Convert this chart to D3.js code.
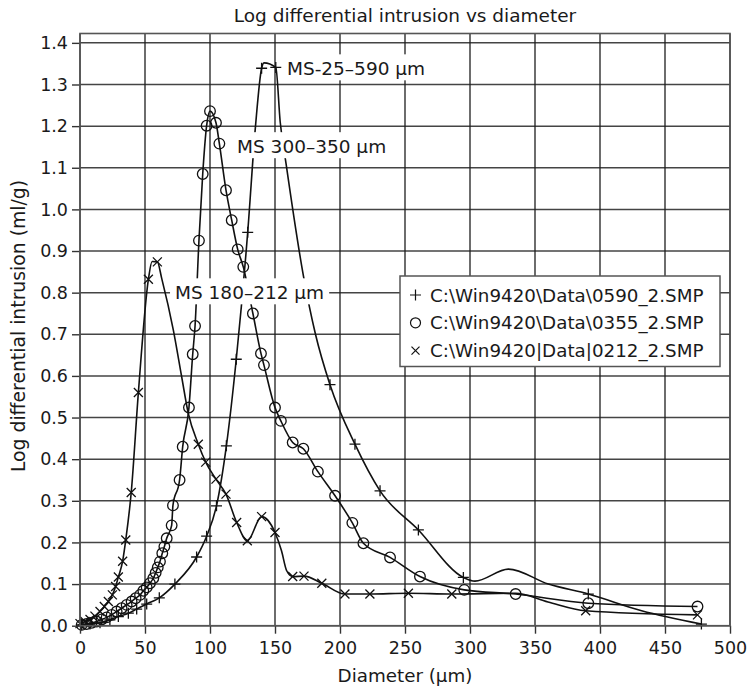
<!DOCTYPE html>
<html>
<head>
<meta charset="utf-8">
<script src="https://cdn.jsdelivr.net/npm/d3@7"></script>
<style>
body { margin: 0; background: #fff; }
svg { display: block; font-family: "DejaVu Sans", sans-serif; }
</style>
</head>
<body>
<svg id="chart"></svg>
<script>
// axis ticks
const xTickValues = [0, 50, 100, 150, 200, 250, 300, 350, 400, 450, 500];
const yTickValues = [0.0, 0.1, 0.2, 0.3, 0.4, 0.5, 0.6, 0.7, 0.8, 0.9, 1.0, 1.1, 1.2, 1.3, 1.4];

const seriesNames = ['C:\\Win9420\\Data\\0590_2.SMP', 'C:\\Win9420\\Data\\0355_2.SMP', 'C:\\Win9420|Data|0212_2.SMP'];
const seriesMarkers = ['plus', 'circle', 'times'];
const curveLabels = ['MS-25\u2013590 \u00b5m', 'MS 300\u2013350 \u00b5m', 'MS 180\u2013212 \u00b5m'];

// MS-25-590 (+) : marked points
const plusX = [1.3, 7.7, 15.4, 23, 29.5, 37.2, 43.6, 51.3, 61, 73, 89.7, 97.4, 105, 112.6, 120.2, 129, 139.7, 150.6, 192.3, 211.5, 230.8, 260.3, 294.9, 391, 478];
const plusY = [0.002, 0.004, 0.007, 0.014, 0.022, 0.030, 0.040, 0.052, 0.067, 0.100, 0.165, 0.215, 0.288, 0.432, 0.640, 0.945, 1.339, 1.341, 0.579, 0.436, 0.324, 0.230, 0.116, 0.076, 0.004];
// curve points without a marker (under labels or between markers)
const plusTraceX = [135, 141.5, 154, 158.5, 172, 181, 303.8, 329.5, 360.3, 432];
const plusTraceY = [1.200, 1.352, 1.210, 1.110, 0.838, 0.702, 0.107, 0.136, 0.100, 0.036];

// MS 300-350 (o)
const circleX = [1.3, 5, 9, 12.8, 16.7, 20.5, 24.4, 28.2, 32, 35.9, 39.7, 42.8, 46.2, 48.7, 51.3, 53.8, 56.4, 58.2, 59.8, 61.5, 63.3, 64.9, 66.7, 70.5, 71.5, 76.6, 79, 83.8, 86.7, 88.5, 91.5, 94.4, 97.4, 100, 104.6, 107.2, 112.3, 116.7, 121.3, 125.6, 133, 139.2, 141.5, 150, 154.5, 163.6, 171.8, 183, 196.2, 209.5, 218, 238.5, 261.5, 295.6, 335.1, 391, 475];
const circleY = [0.002, 0.004, 0.007, 0.010, 0.015, 0.020, 0.026, 0.034, 0.042, 0.050, 0.058, 0.066, 0.074, 0.084, 0.092, 0.102, 0.114, 0.127, 0.140, 0.154, 0.174, 0.190, 0.210, 0.241, 0.289, 0.350, 0.430, 0.524, 0.652, 0.720, 0.925, 1.085, 1.201, 1.236, 1.208, 1.158, 1.046, 0.974, 0.904, 0.862, 0.750, 0.654, 0.626, 0.524, 0.492, 0.440, 0.425, 0.370, 0.312, 0.247, 0.198, 0.164, 0.118, 0.086, 0.076, 0.054, 0.046];
const circleTraceX = [];
const circleTraceY = [];

// MS 180-212 (x)
const timesX = [0, 3.8, 7.7, 11.5, 15.4, 18.7, 21.8, 24.9, 27.4, 29.5, 32.8, 35.2, 39.4, 44.9, 52.6, 59.5, 91, 96.7, 104.6, 112.3, 120.5, 128.7, 139.7, 150, 163.6, 172.3, 186, 203.8, 223, 252.6, 286, 389, 475];
const timesY = [0.005, 0.010, 0.015, 0.023, 0.034, 0.046, 0.058, 0.074, 0.094, 0.117, 0.155, 0.206, 0.320, 0.560, 0.832, 0.874, 0.436, 0.393, 0.352, 0.316, 0.248, 0.204, 0.262, 0.224, 0.118, 0.119, 0.102, 0.076, 0.076, 0.078, 0.076, 0.036, 0.026];
const timesTraceX = [55.5, 62.8, 71.8, 78.2, 83.3, 155, 159, 335, 360];
const timesTraceY = [0.875, 0.835, 0.710, 0.598, 0.510, 0.180, 0.132, 0.078, 0.057];

class intrusionChart {
    constructor(_config, _series) {
        this.config = {
            parentElement: _config.parentElement,
            containerWidth: _config.containerWidth || 750,
            containerHeight: _config.containerHeight || 688,
            margin: _config.margin || { top: 33.5, right: 20, bottom: 62.3, left: 80 },
            yMax: _config.yMax || 1.4225
        };
        this.series = _series;
        this.initApp();
    }
    initApp() {
        let app = this;
        app.width = app.config.containerWidth - app.config.margin.left - app.config.margin.right;
        app.height = app.config.containerHeight - app.config.margin.top - app.config.margin.bottom;
        app.xScale = d3.scaleLinear().domain([0, 500]).range([0, app.width]);
        app.yScale = d3.scaleLinear().domain([0, app.config.yMax]).range([app.height, 0]);
        app.svg = d3.select(app.config.parentElement).attr('width', app.config.containerWidth).attr('height', app.config.containerHeight);
        app.chart = app.svg.append('g').attr('transform', `translate(${app.config.margin.left},${app.config.margin.top})`);
        app.renderApp();
    }
    renderApp() {
        let app = this;
        const x = app.xScale, y = app.yScale;

        // grid
        app.chart.append('g').attr('class', 'grid')
            .selectAll('line').data(yTickValues).join('line')
            .attr('x1', 0).attr('x2', app.width)
            .attr('y1', d => y(d)).attr('y2', d => y(d))
            .attr('stroke', '#444').attr('stroke-width', 1.5);
        app.chart.append('g').attr('class', 'grid')
            .selectAll('line').data(xTickValues).join('line')
            .attr('x1', d => x(d)).attr('x2', d => x(d))
            .attr('y1', 0).attr('y2', app.height)
            .attr('stroke', '#1e1e1e').attr('stroke-width', 1.3);

        // curves
        const line = d3.line().x(d => x(d[0])).y(d => y(d[1])).curve(d3.curveMonotoneX);
        app.series.forEach(s => {
            const pts = s.xs.map((v, i) => [v, s.ys[i]])
                .concat(s.tx.map((v, i) => [v, s.ty[i]]))
                .sort((a, b) => a[0] - b[0]);
            app.chart.append('path').datum(pts)
                .attr('d', line).attr('fill', 'none')
                .attr('stroke', '#111').attr('stroke-width', 1.6);
        });

        // markers
        const markerPath = {
            plus: 'M-5.5,0H5.5M0,-5.5V5.5',
            times: 'M-4.5,-4.5L4.5,4.5M-4.5,4.5L4.5,-4.5'
        };
        app.series.forEach(s => {
            const g = app.chart.append('g');
            const pts = s.xs.map((v, i) => [v, s.ys[i]]);
            if (s.marker === 'circle') {
                g.selectAll('circle').data(pts).join('circle')
                    .attr('cx', d => x(d[0])).attr('cy', d => y(d[1])).attr('r', 5.3)
                    .attr('fill', 'none').attr('stroke', '#111').attr('stroke-width', 1.3);
            } else {
                g.selectAll('path').data(pts).join('path')
                    .attr('transform', d => `translate(${x(d[0])},${y(d[1])})`)
                    .attr('d', markerPath[s.marker])
                    .attr('fill', 'none').attr('stroke', '#111').attr('stroke-width', 1.3);
            }
        });

        // curve labels with white boxes
        const labelPos = [[159.2, 1.322], [120.8, 1.135], [73.1, 0.784]];
        curveLabels.forEach((t, i) => {
            const g = app.chart.append('g');
            const rect = g.append('rect').attr('fill', '#fff');
            const txt = g.append('text')
                .attr('x', x(labelPos[i][0])).attr('y', y(labelPos[i][1]))
                .style('font-size', '18.5px').attr('fill', '#1a1a1a').text(t);
            const bb = txt.node().getBBox();
            rect.attr('x', bb.x - 5).attr('y', bb.y - 4).attr('width', bb.width + 10).attr('height', bb.height + 5);
        });

        // legend
        const lg = app.svg.append('g').attr('transform', 'translate(400,276)');
        lg.append('rect').attr('width', 320).attr('height', 90.5)
            .attr('fill', '#fff').attr('stroke', '#555').attr('stroke-width', 1.5);
        seriesNames.forEach((n, i) => {
            const cy = 19 + i * 27.8;
            const row = lg.append('g').attr('transform', `translate(15.5,${cy})`);
            if (seriesMarkers[i] === 'circle') {
                row.append('circle').attr('r', 5).attr('fill', 'none').attr('stroke', '#111').attr('stroke-width', 1.2);
            } else {
                row.append('path').attr('d', seriesMarkers[i] === 'plus' ? 'M-5.5,0H5.5M0,-5.5V5.5' : 'M-4,-4L4,4M-4,4L4,-4')
                    .attr('stroke', '#111').attr('stroke-width', 1.2);
            }
            lg.append('text').attr('x', 30).attr('y', cy + 6.5)
                .style('font-size', '18.3px').attr('fill', '#1a1a1a').text(n);
        });

        // axes
        const xAxis = d3.axisBottom(x).tickValues(xTickValues).tickSizeInner(8).tickSizeOuter(0).tickPadding(8).tickFormat(d3.format('d'));
        const yAxis = d3.axisLeft(y).tickValues(yTickValues).tickSizeInner(8).tickSizeOuter(0).tickPadding(4).tickFormat(d3.format('.1f'));
        const xAxisG = app.chart.append('g').attr('transform', `translate(0,${app.height})`).call(xAxis);
        const yAxisG = app.chart.append('g').call(yAxis);
        [xAxisG, yAxisG].forEach(g => {
            g.select('.domain').remove();
            g.selectAll('.tick line').attr('stroke', '#333').attr('stroke-width', 1.4);
            g.selectAll('.tick text').style('font-size', '17.5px').style('font-family', '"DejaVu Sans", sans-serif').attr('fill', '#1a1a1a');
        });

        // frame
        app.chart.append('rect').attr('width', app.width).attr('height', app.height)
            .attr('fill', 'none').attr('stroke', '#555').attr('stroke-width', 1.6);

        // titles
        app.svg.append('text').attr('x', 405).attr('y', 21.5).attr('text-anchor', 'middle')
            .style('font-size', '18.5px').attr('fill', '#1a1a1a').text('Log differential intrusion vs diameter');
        app.svg.append('text').attr('x', 405).attr('y', 682).attr('text-anchor', 'middle')
            .style('font-size', '18.3px').attr('fill', '#1a1a1a').text('Diameter (\u00b5m)');
        app.svg.append('text').attr('transform', 'translate(25,326) rotate(-90)').attr('text-anchor', 'middle')
            .style('font-size', '18.8px').attr('fill', '#1a1a1a').text('Log differential intrusion (ml/g)');
    }
}

const series = [
    { xs: plusX, ys: plusY, tx: plusTraceX, ty: plusTraceY, marker: seriesMarkers[0] },
    { xs: circleX, ys: circleY, tx: circleTraceX, ty: circleTraceY, marker: seriesMarkers[1] },
    { xs: timesX, ys: timesY, tx: timesTraceX, ty: timesTraceY, marker: seriesMarkers[2] }
];
new intrusionChart({ parentElement: '#chart' }, series);
</script>
</body>
</html>
